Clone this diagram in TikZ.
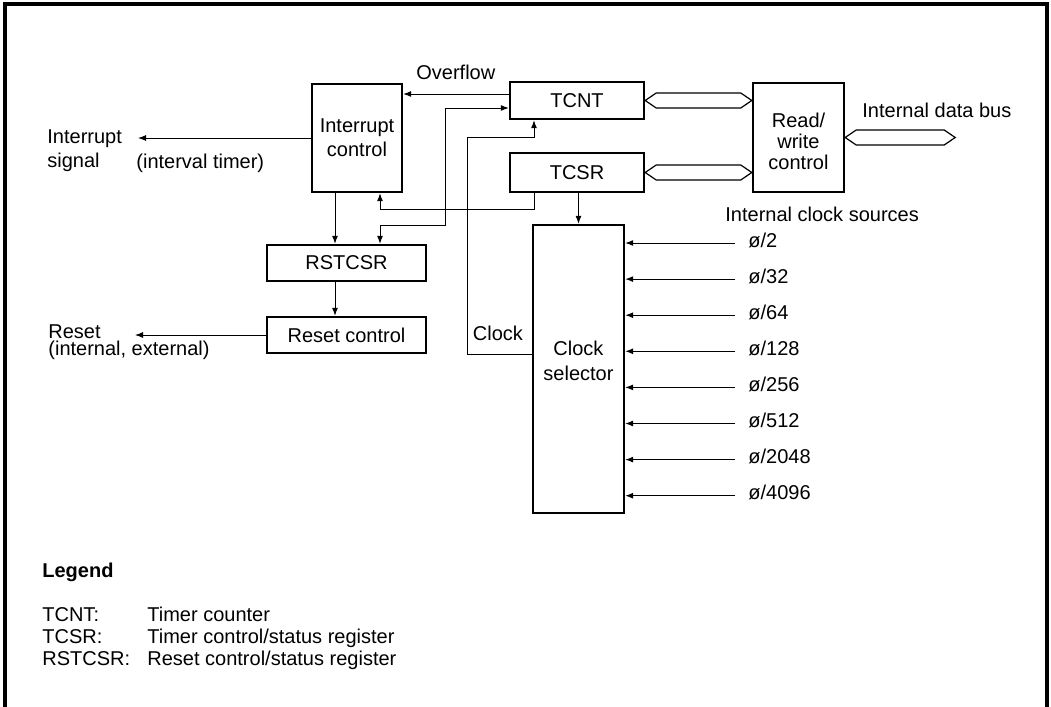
\documentclass[tikz,border=0pt]{standalone}
\usepackage{fontspec}
\setmainfont{Liberation Sans}
\usetikzlibrary{arrows.meta,positioning}

% hollow bus arrow between two points
\newcommand\busline[2]{%
  \draw[bus] (#1) -- ([shift={(11,-7.5)}]#1) -- ([shift={(-11,-7.5)}]#2) -- (#2)
    -- ([shift={(-11,7.5)}]#2) -- ([shift={(11,7.5)}]#1) -- cycle;}

\begin{document}
\begin{tikzpicture}[
  x=0.5pt, y=-0.5pt,
  font=\fontsize{10}{12}\selectfont,
  box/.style={draw, line width=1.2pt, align=center, inner sep=0pt},
  txt/.style={inner sep=0pt},
  arr/.style={-{Latex[length=4pt,width=3pt]}, line width=0.5pt},
  twoarr/.style={{Latex[length=4pt,width=3pt]}-{Latex[length=4pt,width=3pt]}, line width=0.5pt},
  bus/.style={draw, line width=0.6pt, line join=miter},
  frame/.style={line width=1.6pt, line join=miter}
]
\useasboundingbox (0,0) rectangle (1051,707);
\draw[frame] (5,707) |- (1047,4) -- (1047,707);

% blocks
\node[box, minimum width=45pt, minimum height=54pt] (intc) at (357,138) {Interrupt\\control};
\node[box, minimum width=67pt, minimum height=18.5pt] (tcnt) at (577,100.5) {TCNT};
\node[box, minimum width=67pt, minimum height=19.5pt] (tcsr) at (577,172.5) {TCSR};
\node[box, minimum width=45.5pt, minimum height=54.5pt,
  label={[txt, align=center, yshift=-2pt, font=\fontsize{10}{10.5}\selectfont]center:Read/\\write\\control}] (rw) at (798.5,137.5) {};
\node[box, minimum width=79.5pt, minimum height=18pt] (rstcsr) at (346.5,263) {RSTCSR};
\node[box, minimum width=79.5pt, minimum height=18pt] (rstc) at (346.5,335) {Reset control};
\node[box, minimum width=45.5pt, minimum height=144pt,
  label={[txt, align=center, yshift=4.25pt, font=\fontsize{10}{12.5}\selectfont]center:Clock\\selector}] (clksel) at (578.5,369) {};

% labels
\node[txt, anchor=west] (ovf) at (416,72) {Overflow};
\node[txt] (clk) at (498,333) {Clock};
\node[txt, anchor=west] (dbl) at (862,110) {Internal data bus};
\node[txt, anchor=west] (srcl) at (725,214) {Internal clock sources};
\node[txt, anchor=west, align=left] (intl) at (47,151) {Interrupt\\signal};
\node[txt, anchor=west] (ivl) at (136,163) {(interval timer)};
\node[txt, anchor=west, align=left, font=\fontsize{10}{8.5}\selectfont] (rstl) at (48,342) {Reset\\(internal, external)};

% free ends
\coordinate (intout) at (138,138);
\coordinate (rstout) at (135,335);
\coordinate (dbus) at ([xshift=55pt]rw.east);

% connectors
\draw[arr] (tcnt.west |- 0,94) -- (intc.east |- 0,94);
\draw[arr] (intc.west |- intout) -- (intout);
\draw[arr] (rstc.west) -- (rstout);
\draw[arr] (intc.south -| 335,0) -- (rstcsr.north -| 335,0);
\draw[arr] (rstcsr.south -| 335,0) -- (rstc.north -| 335,0);
\draw[arr] (tcsr.south -| 534,0) -- ++(0,16) -| (intc.south -| 380,0);
\draw[twoarr] (tcnt.west |- 0,108) -| (445,225) -| (rstcsr.north -| 380,0);
\draw[arr] (clksel.west |- 0,354) -| (467,137) -| (tcnt.south -| 534,0);
\draw[arr] (clksel.north |- tcsr.south) -- (clksel.north);

% buses
\coordinate (tcntbus) at (rw.west |- tcnt.east);
\coordinate (tcsrbus) at (rw.west |- tcsr.east);
\busline{tcnt.east}{tcntbus}
\busline{tcsr.east}{tcsrbus}
\busline{rw.east}{dbus}

% clock sources
\foreach \d [count=\i from 0] in {2,32,64,128,256,512,2048,4096} {
  \coordinate (src\i) at (735,{243+36.1*\i});
  \draw[arr] (src\i) -- (clksel.east |- src\i);
  \node[txt, right=6.5pt of src\i, yshift=1.5pt] (ck\i) {ø/\d};
}

% legend
\node[txt, anchor=west, font=\fontsize{10}{12}\selectfont\bfseries] (leg) at (42,572) {Legend};
\node[txt, anchor=north west, font=\fontsize{10}{11}\selectfont] (legtab) at (42,606)
  {\begin{tabular}{@{}p{52.5pt}@{}l@{}}
   TCNT: & Timer counter\\
   TCSR: & Timer control/status register\\
   RSTCSR: & Reset control/status register
   \end{tabular}};
\end{tikzpicture}
\end{document}
